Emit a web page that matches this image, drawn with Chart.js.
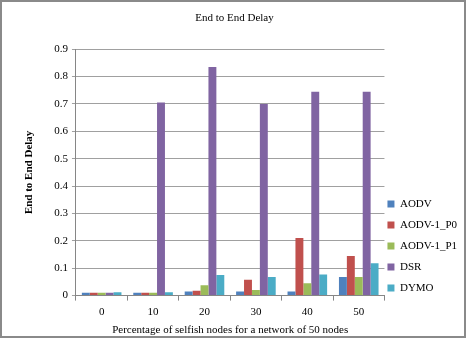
<!DOCTYPE html>
<html lang="en">
  <head>
    <meta charset="UTF-8" />
    <title>End to End Delay</title>
    <script src="https://cdn.jsdelivr.net/npm/chart.js"></script>
    <style>
      * {
        box-sizing: border-box;
        padding: 0;
        margin: 0;
      }
      body {
        background: #fff;
      }
      .frame {
        width: 466px;
        height: 338px;
        border: 2px solid #8a8a8a;
        position: relative;
      }
    </style>
  </head>
  <body>
    <div class="frame">
      <canvas id="myChart" width="462" height="334"></canvas>
    </div>
  </body>
  <script>
    const categories = ["0", "10", "20", "30", "40", "50"];
    const aodv = [0.01, 0.01, 0.015, 0.015, 0.015, 0.068];
    const aodvP0 = [0.01, 0.01, 0.018, 0.058, 0.21, 0.145];
    const aodvP1 = [0.01, 0.01, 0.038, 0.02, 0.045, 0.068];
    const dsr = [0.01, 0.705, 0.835, 0.7, 0.745, 0.745];
    const dymo = [0.012, 0.012, 0.075, 0.068, 0.077, 0.118];

    const serif = "'Liberation Serif', 'Times New Roman', serif";
    Chart.defaults.font.family = serif;
    Chart.defaults.color = "#000";

    // push the legend down a bit, Excel puts it below the middle
    const legendShift = {
      id: "legendShift",
      afterLayout(chart) {
        chart.legend.top += 78;
        chart.legend.bottom += 78;
      },
    };

    const ctx = document.getElementById("myChart").getContext("2d");
    const myChart = new Chart(ctx, {
      type: "bar",
      data: {
        labels: categories,
        datasets: [
          { label: "AODV", data: aodv, backgroundColor: "#4F81BD" },
          { label: "AODV-1_P0", data: aodvP0, backgroundColor: "#C0504D" },
          { label: "AODV-1_P1", data: aodvP1, backgroundColor: "#9BBB59" },
          { label: "DSR", data: dsr, backgroundColor: "#8064A2" },
          { label: "DYMO", data: dymo, backgroundColor: "#4BACC6" },
        ],
      },
      options: {
        responsive: false,
        animation: false,
        layout: { padding: { left: 0, right: -3, top: 4, bottom: -1 } },
        datasets: {
          bar: { barPercentage: 1, categoryPercentage: 0.77 },
        },
        plugins: {
          title: {
            display: true,
            text: "End to End Delay",
            font: { size: 11, weight: "normal" },
            padding: { top: 6, bottom: 24 },
          },
          legend: {
            position: "right",
            align: "center",
            labels: {
              boxWidth: 7,
              boxHeight: 7,
              padding: 3,
              font: { size: 11, lineHeight: "18px" },
              // one-line arrays so the item height follows the line height
              generateLabels(chart) {
                const items = Chart.defaults.plugins.legend.labels.generateLabels(chart);
                items.forEach((it) => (it.text = [it.text]));
                return items;
              },
            },
          },
          tooltip: { enabled: false },
        },
        scales: {
          x: {
            grid: {
              offset: true,
              drawOnChartArea: false,
              tickLength: 5,
              color: "#868686",
            },
            border: { color: "#868686" },
            ticks: { font: { size: 11 }, padding: 5 },
            title: {
              display: true,
              text: "Percentage of selfish nodes for a network of 50 nodes",
              font: { size: 11 },
              padding: { top: 0, bottom: 0 },
            },
          },
          y: {
            min: 0,
            max: 0.9,
            grid: { color: "#a0a0a0", tickLength: 4 },
            border: { color: "#868686" },
            ticks: {
              stepSize: 0.1,
              font: { size: 11 },
              padding: 4,
              callback: (v) => (Math.round(v * 10) / 10).toString(),
            },
            title: {
              display: true,
              text: "End to End Delay",
              font: { size: 11, weight: "bold" },
              padding: { top: 21, bottom: 14 },
            },
          },
        },
      },
      plugins: [legendShift],
    });
  </script>
</html>
